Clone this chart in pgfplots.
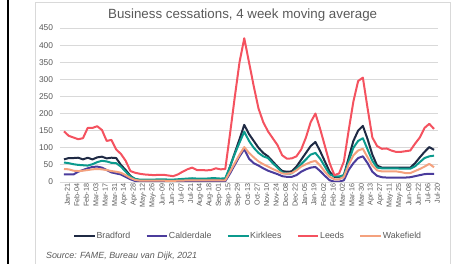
\documentclass[border=0pt]{standalone}
\usepackage{fontspec}
\setmainfont{Liberation Sans}
\usepackage{pgfplots}
\usepackage{pgfplotstable}
\pgfplotsset{compat=1.18}
\definecolor{bra}{HTML}{1F2A44}
\definecolor{cal}{HTML}{4B3C9C}
\definecolor{kir}{HTML}{0B9A8D}
\definecolor{lee}{HTML}{F4525F}
\definecolor{wak}{HTML}{F4A17E}
\definecolor{txt}{HTML}{595959}
\definecolor{grd}{HTML}{D9D9D9}
\pgfplotstableread{
i bra cal kir lee wak
0 66 22 57 148 38
1 70 22 55 135 37
2 70 22 52 130 33
3 71 30 50 125 32
4 66 35 49 128 33
5 71 40 48 158 35
6 66 44 52 158 37
7 72 45 58 163 38
8 74 42 62 152 37
9 69 35 60 120 35
10 71 28 56 123 32
11 70 25 55 95 30
12 50 22 45 82 27
13 35 15 30 62 20
14 18 8 16 32 12
15 8 3 9 27 6
16 5 2 7 24 4
17 4 1 7 22 4
18 4 1 7 21 4
19 4 1 7 20 4
20 4 1 8 21 4
21 4 1 8 21 4
22 3 1 7 19 3
23 3 1 7 17 3
24 4 1 8 22 4
25 4 1 9 30 4
26 5 1 10 37 5
27 5 1 11 42 5
28 5 1 10 35 5
29 5 1 10 35 5
30 5 1 10 34 5
31 5 1 11 35 5
32 5 1 11 40 5
33 5 1 10 37 5
34 6 2 11 38 5
35 45 25 45 141 30
36 85 50 82 248 55
37 125 75 115 350 80
38 167 96 147 420 102
39 140 68 120 350 85
40 120 55 100 280 72
41 100 48 85 215 60
42 85 40 75 175 52
43 75 33 70 148 45
44 60 28 55 128 38
45 45 23 42 108 32
46 32 17 28 78 25
47 30 15 24 68 24
48 31 15 25 69 26
49 45 20 38 75 34
50 65 30 52 95 45
51 85 37 66 130 52
52 105 42 80 175 58
53 117 44 85 200 62
54 90 32 68 155 48
55 60 18 45 105 30
56 30 5 22 55 15
57 15 1 17 20 8
58 14 1 16 25 8
59 20 5 20 60 15
60 70 35 60 150 50
61 120 55 100 235 78
62 150 70 120 295 92
63 164 75 128 305 97
64 125 55 95 215 72
65 80 30 62 130 48
66 48 18 42 105 34
67 42 14 40 97 31
68 42 13 40 98 31
69 42 13 40 92 31
70 42 13 40 88 31
71 42 13 39 88 29
72 42 13 39 90 26
73 42 14 39 92 26
74 55 17 46 112 32
75 72 20 58 130 38
76 88 23 70 158 45
77 102 24 75 170 53
78 94 24 77 155 43
}\datatable
\begin{document}
\begin{tikzpicture}
\useasboundingbox (0,0) rectangle (345.75pt,198pt);
\draw[black, line width=1.6pt] (6pt,-1pt) -- (6pt,199pt);
\draw[grd, line width=0.7pt] (26.25pt,-2pt) rectangle (337.5pt,196.5pt);
\node[text=txt, font=\fontsize{10}{12}\selectfont] at (182pt,186.5pt) {Business cessations, 4 week moving average};
\node[text=txt, anchor=west, font=\fontsize{6.7}{8}\selectfont\itshape] at (31pt,5.5pt) {Source: FAME, Bureau van Dijk, 2021};
\begin{axis}[
  at={(45pt,61.5pt)}, anchor=south west,
  scale only axis, width=283.5pt, height=115.5pt,
  xmin=-0.84, xmax=78.84, ymin=0, ymax=450,
  ytick={0,50,...,450},
  xtick={0,2,...,78},
  xticklabels={Jan-21,Feb-04,Feb-18,Mar-03,Mar-17,Mar-31,Apr-14,Apr-28,May-12,May-26,Jun-09,Jun-23,Jul-07,Jul-21,Aug-04,Aug-18,Sep-01,Sep-15,Sep-29,Oct-13,Oct-27,Nov-10,Nov-24,Dec-08,Dec-22,Jan-05,Jan-19,Feb-02,Feb-16,Mar-02,Mar-16,Mar-30,Apr-13,Apr-27,May-11,May-25,Jun-08,Jun-22,Jul-06,Jul-20},
  xticklabel style={rotate=90, anchor=east, inner sep=1pt, yshift=-2.5pt, text=txt, font=\fontsize{5.4}{6}\selectfont},
  yticklabel style={text=txt, font=\fontsize{6.3}{7}\selectfont, inner sep=1pt, xshift=-4pt},
  /pgf/number format/assume math mode=true,
  major tick length=0pt,
  axis line style={draw=none},
  ymajorgrids, grid style={grd, line width=0.6pt},
  legend style={at={(0.496,-0.35)}, anchor=center, draw=none, fill=none, legend columns=5,
    font=\fontsize{6.6}{8}\selectfont, text=txt, inner sep=0pt,
    /tikz/every even column/.append style={column sep=11pt},
    nodes={inner xsep=0.5pt}},
  legend image code/.code={\draw[#1] (0pt,0pt) -- (15.5pt,0pt);},
  every axis plot/.append style={line width=1.5pt, line join=round},
]
\addplot[bra] table[x=i, y=bra] {\datatable};
\addlegendentry{Bradford}
\addplot[cal] table[x=i, y=cal] {\datatable};
\addlegendentry{Calderdale}
\addplot[kir] table[x=i, y=kir] {\datatable};
\addlegendentry{Kirklees}
\addplot[lee] table[x=i, y=lee] {\datatable};
\addlegendentry{Leeds}
\addplot[wak] table[x=i, y=wak] {\datatable};
\addlegendentry{Wakefield}
\end{axis}
\end{tikzpicture}
\end{document}
